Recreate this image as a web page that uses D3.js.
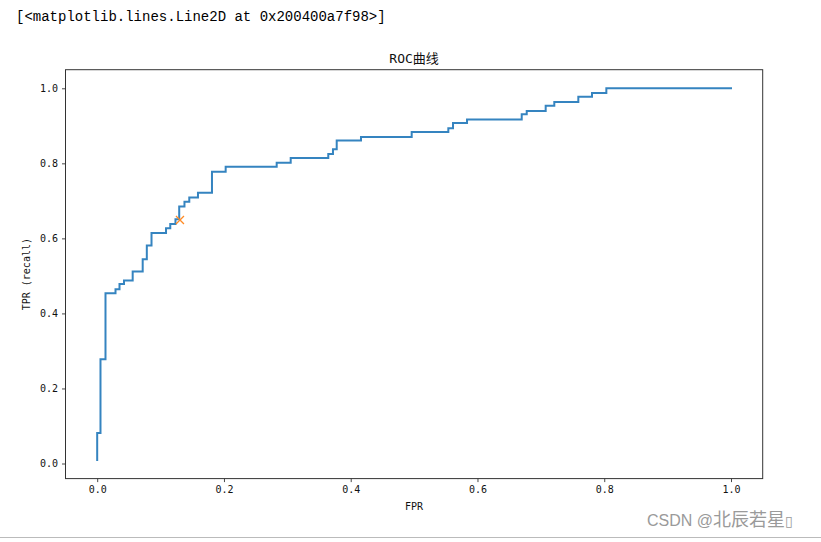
<!DOCTYPE html>
<html>
<head>
<meta charset="utf-8">
<script src="https://cdn.jsdelivr.net/npm/d3@7"></script>
<style>
  html, body { margin: 0; padding: 0; background: #fff; }
  svg { display: block; }
  .tick text { font-family: "DejaVu Sans Mono", "Noto Sans CJK SC", monospace; font-size: 10px; fill: #111; }
</style>
</head>
<body>
<div id="chart"></div>
<script>
"use strict";

// ROC curve points
const FPR = [
  0, 0, 0.0052, 0.0052, 0.0131, 0.0131, 0.0289, 0.0289, 0.0352, 0.0352,
  0.0423, 0.0423, 0.056, 0.056, 0.0718, 0.0718, 0.0783, 0.0783, 0.0857, 0.0857,
  0.1086, 0.1086, 0.1153, 0.1153, 0.1235, 0.1235, 0.1294, 0.1294, 0.1377, 0.1377,
  0.1453, 0.1453, 0.159, 0.159, 0.1811, 0.1811, 0.2027, 0.2027, 0.2832, 0.2832,
  0.3053, 0.3053, 0.3646, 0.3646, 0.372, 0.372, 0.3779, 0.3779, 0.4162, 0.4162,
  0.4962, 0.4962, 0.554, 0.554, 0.5614, 0.5614, 0.5835, 0.5835, 0.6698, 0.6698,
  0.6777, 0.6777, 0.7076, 0.7076, 0.7212, 0.7212, 0.7591, 0.7591, 0.7807, 0.7807,
  0.8033, 0.8033, 1.0,
];
const TPR = [
  0.0093, 0.0813, 0.0813, 0.2777, 0.2777, 0.4536, 0.4536, 0.4643, 0.4643, 0.4784,
  0.4784, 0.4877, 0.4877, 0.5117, 0.5117, 0.5445, 0.5445, 0.581, 0.581, 0.6143,
  0.6143, 0.6269, 0.6269, 0.6383, 0.6383, 0.6509, 0.6509, 0.685, 0.685, 0.6978,
  0.6978, 0.709, 0.709, 0.7217, 0.7217, 0.7777, 0.7777, 0.7908, 0.7908, 0.8017,
  0.8017, 0.8142, 0.8142, 0.8249, 0.8249, 0.8374, 0.8374, 0.8609, 0.8609, 0.8702,
  0.8702, 0.8835, 0.8835, 0.8934, 0.8934, 0.9075, 0.9075, 0.9168, 0.9168, 0.9307,
  0.9307, 0.9395, 0.9395, 0.9536, 0.9536, 0.9635, 0.9635, 0.9776, 0.9776, 0.9875,
  0.9875, 1.0, 1.0,
];
// chosen threshold, drawn as an x marker
const THRESHOLD_POINT = [0.1306, 0.649];

const X_TICKS = [0.0, 0.2, 0.4, 0.6, 0.8, 1.0];
const Y_TICKS = [0.0, 0.2, 0.4, 0.6, 0.8, 1.0];

const TITLE = "ROC曲线";
const X_LABEL = "FPR";
const Y_LABEL = "TPR (recall)";
const OUTPUT_LINE = "[<matplotlib.lines.Line2D at 0x200400a7f98>]";
const WATERMARK_LATIN = "CSDN @";
const WATERMARK_CJK = "北辰若星";

function _main() {
  const WIDTH = 821;
  const HEIGHT = 542;
  const AXES = { left: 65.5, right: 762.7, top: 69.7, bottom: 478.6 };

  const svg = d3.select("#chart").append("svg").attr("width", WIDTH).attr("height", HEIGHT);
  const data = FPR.map((x, i) => ({ x: x, y: TPR[i] }));

  // matplotlib style 5% margins around the data
  const xExt = d3.extent(data, (d) => d.x);
  const yExt = d3.extent(data, (d) => d.y);
  const xPad = 0.05 * (xExt[1] - xExt[0]);
  const yPad = 0.05 * (yExt[1] - yExt[0]);

  const xScale = d3
    .scaleLinear()
    .domain([xExt[0] - xPad, xExt[1] + xPad])
    .range([AXES.left, AXES.right]);
  const yScale = d3
    .scaleLinear()
    .domain([yExt[0] - yPad, yExt[1] + yPad])
    .range([AXES.bottom, AXES.top]);

  addOutputText(svg);
  addAxes(svg, xScale, yScale, AXES);
  addRocLine(svg, data, xScale, yScale);
  addMarker(svg, xScale, yScale);
  addWatermark(svg, WIDTH);
}

function addOutputText(svg) {
  svg
    .append("text")
    .attr("x", 16)
    .attr("y", 21)
    .attr("font-family", "'Liberation Mono', 'DejaVu Sans Mono', monospace")
    .attr("font-size", "14px")
    .attr("fill", "#000")
    .text(OUTPUT_LINE);
}

function addAxes(svg, xScale, yScale, AXES) {
  const xAxis = svg
    .append("g")
    .attr("transform", `translate(0, ${AXES.bottom})`)
    .call(
      d3.axisBottom(xScale).tickValues(X_TICKS).tickFormat(d3.format(".1f")).tickSize(3.5).tickPadding(4)
    );
  const yAxis = svg
    .append("g")
    .attr("transform", `translate(${AXES.left}, 0)`)
    .call(
      d3.axisLeft(yScale).tickValues(Y_TICKS).tickFormat(d3.format(".1f")).tickSize(3.5).tickPadding(4)
    );
  [xAxis, yAxis].forEach((g) => {
    g.select(".domain").remove();
    g.selectAll(".tick line").attr("stroke", "#333").attr("stroke-width", 0.9);
  });

  // frame
  svg
    .append("rect")
    .attr("x", AXES.left)
    .attr("y", AXES.top)
    .attr("width", AXES.right - AXES.left)
    .attr("height", AXES.bottom - AXES.top)
    .attr("fill", "none")
    .attr("stroke", "#333")
    .attr("stroke-width", 1);

  const midX = (AXES.left + AXES.right) / 2;
  const midY = (AXES.top + AXES.bottom) / 2;
  const font = "'DejaVu Sans Mono', 'Noto Sans CJK SC', monospace";

  svg
    .append("text")
    .attr("x", midX)
    .attr("y", 63)
    .attr("text-anchor", "middle")
    .attr("font-family", font)
    .attr("font-size", "13px")
    .attr("fill", "#111")
    .text(TITLE);

  svg
    .append("text")
    .attr("x", midX)
    .attr("y", 510)
    .attr("text-anchor", "middle")
    .attr("font-family", font)
    .attr("font-size", "10px")
    .attr("fill", "#111")
    .text(X_LABEL);

  svg
    .append("text")
    .attr("transform", `translate(30, ${midY}) rotate(-90)`)
    .attr("text-anchor", "middle")
    .attr("font-family", font)
    .attr("font-size", "10px")
    .attr("fill", "#111")
    .text(Y_LABEL);
}

function addRocLine(svg, data, xScale, yScale) {
  const lineGenerator = d3
    .line()
    .x((d) => xScale(d.x))
    .y((d) => yScale(d.y));
  return svg
    .append("path")
    .datum(data)
    .attr("d", lineGenerator)
    .attr("fill", "none")
    .attr("stroke", "#3584c0")
    .attr("stroke-width", 2)
    .attr("stroke-linejoin", "miter")
    .attr("stroke-linecap", "square");
}

function addMarker(svg, xScale, yScale) {
  const cx = xScale(THRESHOLD_POINT[0]);
  const cy = yScale(THRESHOLD_POINT[1]);
  const r = 4;
  svg
    .append("path")
    .attr("d", `M${cx - r},${cy - r}L${cx + r},${cy + r}M${cx - r},${cy + r}L${cx + r},${cy - r}`)
    .attr("stroke", "#ff8a24")
    .attr("stroke-width", 1.3)
    .attr("fill", "none");
}

function addWatermark(svg, WIDTH) {
  svg
    .append("line")
    .attr("x1", 0)
    .attr("x2", WIDTH)
    .attr("y1", 537.5)
    .attr("y2", 537.5)
    .attr("stroke", "#bbb")
    .attr("stroke-width", 1);
  const t = svg
    .append("text")
    .attr("x", 647)
    .attr("y", 526)
    .attr("fill", "#9a9a9a");
  t.append("tspan")
    .attr("font-family", "'Liberation Sans', sans-serif")
    .attr("font-size", "16px")
    .text(WATERMARK_LATIN);
  t.append("tspan")
    .attr("font-family", "'Noto Sans CJK SC', sans-serif")
    .attr("font-size", "18px")
    .text(WATERMARK_CJK);
  t.append("tspan")
    .attr("font-family", "'DejaVu Sans', sans-serif")
    .attr("font-size", "14px")
    .text("\u25AF");
}

_main();
</script>
</body>
</html>
